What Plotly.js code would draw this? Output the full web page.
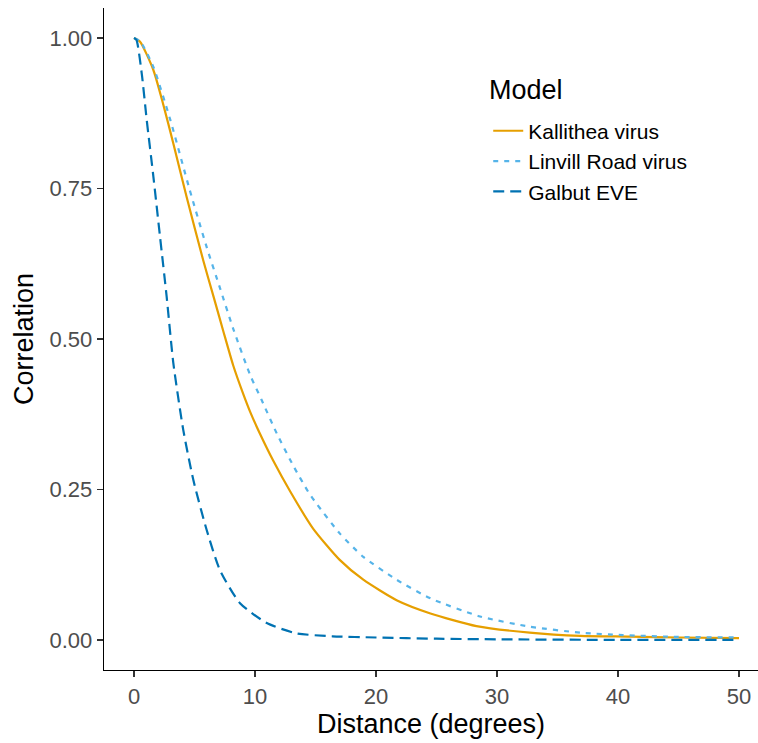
<!DOCTYPE html>
<html>
<head>
<meta charset="utf-8">
<script src="https://cdn.plot.ly/plotly-3.0.1.min.js"></script>
<style>html,body{margin:0;padding:0;background:#fff;}#chart{width:758px;height:743px;}</style>
</head>
<body>
<div id="chart"></div>
<script>
// Kallithea virus (solid orange)
const kallitheaX = [0, 0.5, 1.6, 2.4, 3.25, 4.35, 5.73, 6.55, 7.38, 8.2, 9.04, 9.6, 10.4, 11.5, 12.9, 14.8, 17.0, 18.95, 21.7, 24.5, 28.3, 32.7, 36.9, 41, 45, 50];
const kallitheaY = [1.0, 0.994, 0.947, 0.891, 0.825, 0.736, 0.630, 0.572, 0.513, 0.456, 0.408, 0.379, 0.343, 0.298, 0.247, 0.185, 0.133, 0.1, 0.066, 0.044, 0.023, 0.012, 0.0066, 0.0055, 0.004, 0.003];
// Linvill Road virus (dotted light blue)
const linvillX = [0, 0.5, 1.6, 3.0, 4.6, 6.0, 7.1, 8.2, 9.6, 10.54, 11.8, 13.2, 14.4, 15.1, 17.0, 18.95, 21.7, 24.5, 28.6, 32.7, 36.9, 40.4, 45, 50];
const linvillY = [1.0, 0.995, 0.952, 0.864, 0.748, 0.653, 0.585, 0.517, 0.440, 0.399, 0.343, 0.288, 0.246, 0.226, 0.177, 0.138, 0.1, 0.069, 0.039, 0.022, 0.012, 0.008, 0.005, 0.004];
// Galbut EVE (dashed dark blue)
const galbutX = [0, 0.2, 0.64, 1.05, 1.6, 2.15, 2.7, 3.25, 4.07, 4.9, 6.0, 7.1, 8.76, 10.97, 13.4, 16.4, 20, 25, 30, 40, 50];
const galbutY = [1.0, 0.997, 0.941, 0.864, 0.77, 0.67, 0.57, 0.46, 0.349, 0.266, 0.183, 0.116, 0.061, 0.028, 0.011, 0.006, 0.004, 0.002, 0.001, 0.0, 0.0];

const seriesNames = ["Kallithea virus", "Linvill Road virus", "Galbut EVE"];
const legendTitle = "Model";
const xTicks = [0, 10, 20, 30, 40, 50];
const yTicks = [0, 0.25, 0.5, 0.75, 1.0];
const yTickText = ["0.00", "0.25", "0.50", "0.75", "1.00"];

const traces = [
  {x: kallitheaX, y: kallitheaY, name: seriesNames[0], type: "scatter", mode: "lines",
   line: {color: "#E69F00", width: 2.2, dash: "solid", shape: "spline", smoothing: 0.6}},
  {x: linvillX, y: linvillY, name: seriesNames[1], type: "scatter", mode: "lines",
   line: {color: "#56B4E9", width: 2.2, dash: "5px,6px", shape: "spline", smoothing: 0.6}},
  {x: galbutX, y: galbutY, name: seriesNames[2], type: "scatter", mode: "lines",
   line: {color: "#0072B2", width: 2.2, dash: "11px,6px", shape: "spline", smoothing: 0.6}}
];

const layout = {
  width: 758, height: 743,
  margin: {l: 104, r: 0, t: 8, b: 73},
  paper_bgcolor: "#fff", plot_bgcolor: "#fff",
  font: {family: "Liberation Sans, Arial, sans-serif", color: "#000"},
  xaxis: {
    range: [-2.48, 51.57], tickvals: xTicks, ticktext: xTicks.map(String),
    showgrid: false, zeroline: false, showline: true, linecolor: "#000", linewidth: 1.3,
    ticks: "outside", ticklen: 6, tickwidth: 1.3, tickcolor: "#333",
    tickfont: {size: 22, color: "#4D4D4D"},
    title: {text: "Distance (degrees)", font: {size: 27, color: "#000"}, standoff: 5}
  },
  yaxis: {
    range: [-0.05, 1.05], tickvals: yTicks, ticktext: yTickText,
    showgrid: false, zeroline: false, showline: true, linecolor: "#000", linewidth: 1.3,
    ticks: "outside", ticklen: 6, tickwidth: 1.3, tickcolor: "#333",
    tickfont: {size: 22, color: "#4D4D4D"},
    title: {text: "Correlation", font: {size: 27, color: "#000"}, standoff: 8}
  },
  legend: {
    x: 0.5875, y: 0.845, xanchor: "left", yanchor: "top",
    bgcolor: "rgba(0,0,0,0)", borderwidth: 0,
    font: {size: 21, color: "#000"},
    tracegroupgap: 0
  },
  annotations: [{
    text: legendTitle, xref: "paper", yref: "paper", x: 0.5856, y: 0.876,
    xanchor: "left", yanchor: "middle", showarrow: false,
    font: {size: 27, color: "#000"}
  }],
  showlegend: true
};

Plotly.newPlot("chart", traces, layout, {displayModeBar: false, staticPlot: true});
</script>
</body>
</html>
